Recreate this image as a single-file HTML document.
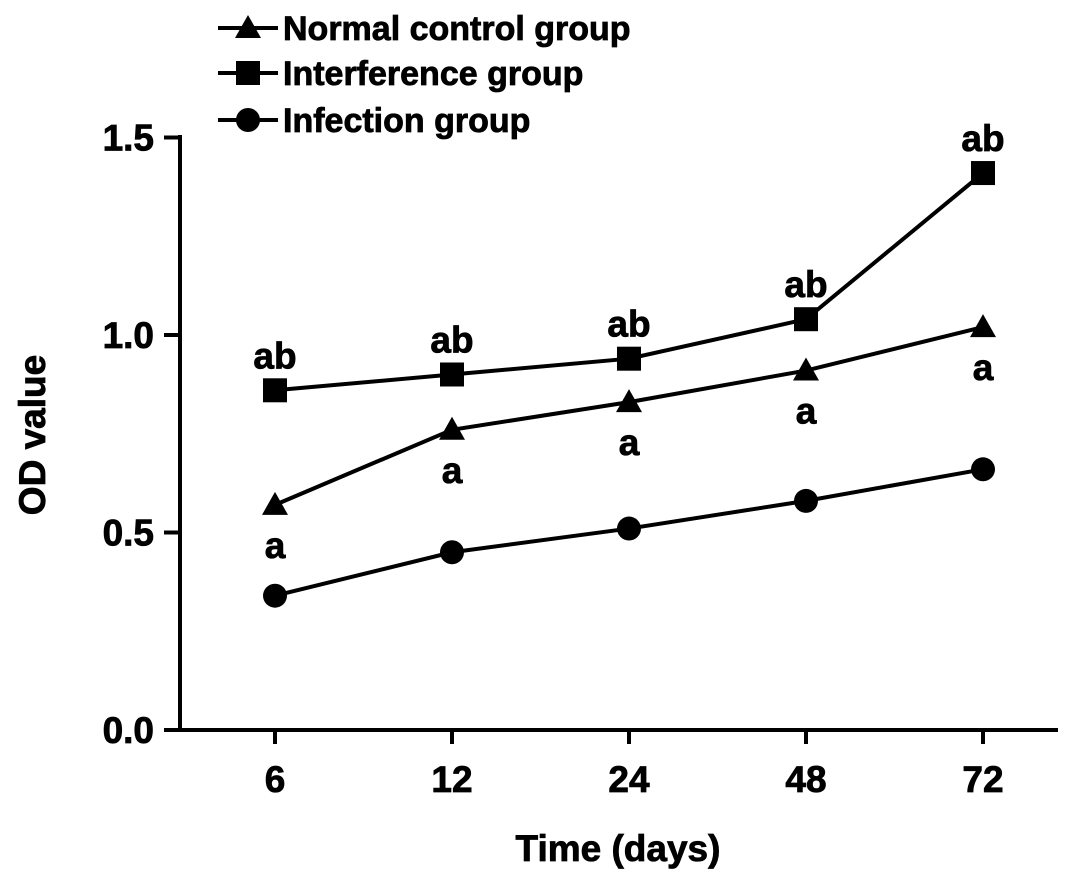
<!DOCTYPE html>
<html><head><meta charset="utf-8"><style>
body{margin:0;background:#fff}
svg text{font-family:"Liberation Sans",Arial,sans-serif;font-weight:bold;fill:#000;stroke:#000;stroke-width:0.8px}
</style></head><body>
<svg id="c" width="1087" height="881" viewBox="0 0 1087 881"></svg>
<script>
const categories=["6","12","24","48","72"];
const normalValues=[0.57,0.76,0.83,0.91,1.02];
const interferenceValues=[0.86,0.90,0.94,1.04,1.41];
const infectionValues=[0.34,0.45,0.51,0.58,0.66];
const yTicks=[0.0,0.5,1.0,1.5];
const yTickLabels=["0.0","0.5","1.0","1.5"];
const normalMarks=["a","a","a","a","a"];
const interferenceMarks=["ab","ab","ab","ab","ab"];

const svg=document.getElementById('c');
const NS="http://www.w3.org/2000/svg";
const y0=730,pxPerUnit=395;
function ys(v){return y0-v*pxPerUnit;}
function xs(i){return 275+i*177;}
function mk(tag,attrs,parent){const e=document.createElementNS(NS,tag);for(const k in attrs)e.setAttribute(k,attrs[k]);(parent||svg).appendChild(e);return e;}
function txt(s,x,y,size,anchor,parent){const t=mk('text',{x:x,y:y,'font-size':size,'text-anchor':anchor||'middle'},parent);t.textContent=s;return t;}

let ya=mk('line',{x1:180,y1:135,x2:180,y2:y0+2,stroke:'#000','stroke-width':4});


let xa=mk('line',{x1:178,y1:y0,x2:1058,y2:y0,stroke:'#000','stroke-width':4});


yTicks.forEach((v,i)=>{
  mk('line',{x1:164,y1:ys(v),x2:180,y2:ys(v),stroke:'#000','stroke-width':4});
  const t=txt(yTickLabels[i],154,ys(v)+13,37,'end');
  
  
});
categories.forEach((c,i)=>{
  mk('line',{x1:xs(i),y1:y0,x2:xs(i),y2:y0+14,stroke:'#000','stroke-width':4});
  const t=txt(c,xs(i),y0+62,37);
  
  
});
const xt=txt("Time (days)",618,861,37);


const yt=txt("OD value",0,0,37);
yt.setAttribute('transform','translate(45,435) rotate(-90)');



function marker(type,x,y,g){
  if(type==='tri')mk('polygon',{points:`${x},${y-13} ${x-13},${y+10} ${x+13},${y+10}`,fill:'#000'},g);
  else if(type==='sq')mk('rect',{x:x-12,y:y-12,width:24,height:24,fill:'#000'},g);
  else mk('circle',{cx:x,cy:y,r:12,fill:'#000'},g);
}
function series(vals,type,name){
  const g=mk('g',{});
  
  
  mk('polyline',{points:vals.map((v,i)=>xs(i)+','+ys(v)).join(' '),fill:'none',stroke:'#000','stroke-width':4},g);
  vals.forEach((v,i)=>marker(type,xs(i),ys(v),g));
  return g;
}
series(normalValues,'tri','normal-control-series');
series(interferenceValues,'sq','interference-series');
series(infectionValues,'circ','infection-series');
normalValues.forEach((v,i)=>{const t=txt(normalMarks[i],xs(i),ys(v)+53,37);
  
  });
interferenceValues.forEach((v,i)=>{const t=txt(interferenceMarks[i],xs(i),ys(v)-22,37);
  
  });

const legend=[["Normal control group",'tri',28],["Interference group",'sq',73],["Infection group",'circ',120]];
legend.forEach(l=>{
  const g=mk('g',{});
  
  
  mk('line',{x1:218,y1:l[2],x2:278,y2:l[2],stroke:'#000','stroke-width':4},g);
  marker(l[1],248,l[2],g);
  txt(l[0],283,l[2]+12,34,'start',g);
});
</script>
</body></html>
